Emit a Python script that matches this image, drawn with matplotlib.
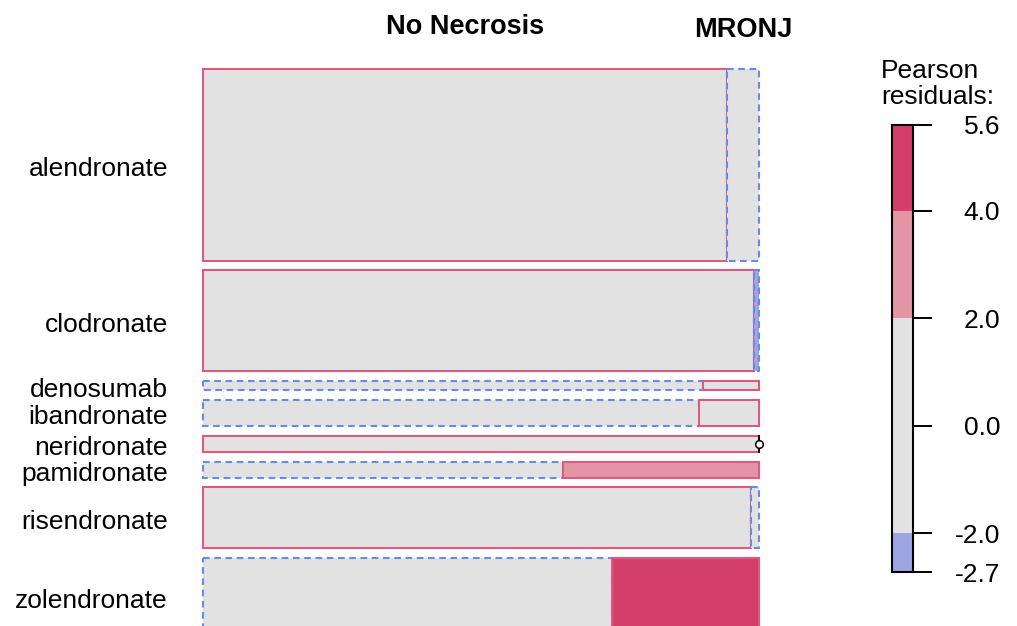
import numpy as np
import matplotlib.pyplot as plt
from matplotlib.patches import Rectangle
from matplotlib.transforms import blended_transform_factory, offset_copy

plt.rcParams["font.family"] = ["Liberation Sans", "DejaVu Sans"]

# counts per drug (rows) and outcome (columns)
drugs = ["alendronate", "clodronate", "denosumab", "ibandronate",
         "neridronate", "pamidronate", "risendronate", "zolendronate"]
outcomes = ["No Necrosis", "MRONJ"]
no_necrosis = np.array([195, 108, 9, 25, 18, 11, 65, 61])
mronj = np.array([12, 1, 1, 3, 0, 6, 1, 22])

# pearson residuals
obs = np.column_stack([no_necrosis, mronj]).astype(float)
row_tot = obs.sum(axis=1)
col_tot = obs.sum(axis=0)
expected = np.outer(row_tot, col_tot) / obs.sum()
resid = (obs - expected) / np.sqrt(expected)

PINK_DARK = "#D33F6A"
PINK_LIGHT = "#E495A5"
GREY = "#E2E2E2"
BLUE_LIGHT = "#9DA6E2"
BLUE_DARK = "#4A6FE3"
LINE_PINK = "#DA5A80"
LINE_BLUE = "#6A88EA"


def fill_colour(r):
    if r > 4:
        return PINK_DARK
    if r > 2:
        return PINK_LIGHT
    if r < -4:
        return BLUE_DARK
    if r < -2:
        return BLUE_LIGHT
    return GREY


W, H = 1017, 626
fig = plt.figure(figsize=(W / 100, H / 100), dpi=100)

# mosaic
gap = 10.5
span = row_tot.sum() + gap * (len(drugs) - 1)
ax = fig.add_axes([203 / W, 1 - 635 / H, 556 / W, 566 / H])
ax.set_xlim(0, 1)
ax.set_ylim(span, 0)
ax.axis("off")

label_trans = offset_copy(ax.transData, fig=fig, x=-35, y=-11, units="dots")

y = 0
for i, name in enumerate(drugs):
    h = row_tot[i]
    x0 = 0
    for j in range(len(outcomes)):
        w = obs[i, j] / h
        r = resid[i, j]
        if w == 0:
            # empty cell
            ax.plot([x0, x0], [y, y + h], color="black", lw=1.3, clip_on=False)
            ax.plot(x0, y + h / 2, marker="o", ms=5.5, mfc="white", mec="black",
                    mew=1.1, clip_on=False)
            continue
        if r > 0:
            ec, ls = LINE_PINK, "solid"
        else:
            ec, ls = LINE_BLUE, (0, (3.2, 2.2))
        ax.add_patch(Rectangle((x0, y), w, h, facecolor=fill_colour(r),
                               edgecolor=ec, linestyle=ls, lw=1.5,
                               clip_on=False))
        x0 += w
    ax.text(0, y + h / 2, name, transform=label_trans, ha="right",
            va="baseline", fontsize=19)
    y += h + gap

# column headers over the first row
trans = blended_transform_factory(ax.transData, fig.transFigure)
x0 = 0
header_y = [1 - 34 / H, 1 - 37 / H]
for j, lab in enumerate(outcomes):
    w = obs[0, j] / row_tot[0]
    ax.text(x0 + w / 2, header_y[j], lab, transform=trans, ha="center",
            va="baseline", fontsize=19.5, fontweight="bold")
    x0 += w

# legend
rmin, rmax = resid.min(), resid.max()
breaks = [b for b in (-4, -2, 0, 2, 4) if rmin < b < rmax]
edges = [rmin] + [b for b in breaks if b != 0] + [rmax]
lax = fig.add_axes([892 / W, 1 - 572 / H, 21 / W, 447 / H])
lax.set_ylim(rmin, rmax)
lax.set_xlim(0, 1)
for lo, hi in zip(edges[:-1], edges[1:]):
    lax.axhspan(lo, hi, color=fill_colour((lo + hi) / 2), lw=0)
for s in lax.spines.values():
    s.set_color("black")
    s.set_linewidth(1.5)
ticks = [rmin] + breaks + [rmax]
lax.set_xticks([])
lax.yaxis.tick_right()
lax.set_yticks(ticks)
lax.set_yticklabels(["%.1f" % round(t, 1) for t in ticks])
lax.tick_params(axis="y", length=13.7, width=1.4, pad=49, labelsize=19,
                colors="black")
plt.setp(lax.get_yticklabels(), ha="right")

fig.text(881 / W, 1 - 78 / H, "Pearson", fontsize=19, va="baseline")
fig.text(881 / W, 1 - 104 / H, "residuals:", fontsize=19, va="baseline")

fig.savefig("out.png", dpi=100)
